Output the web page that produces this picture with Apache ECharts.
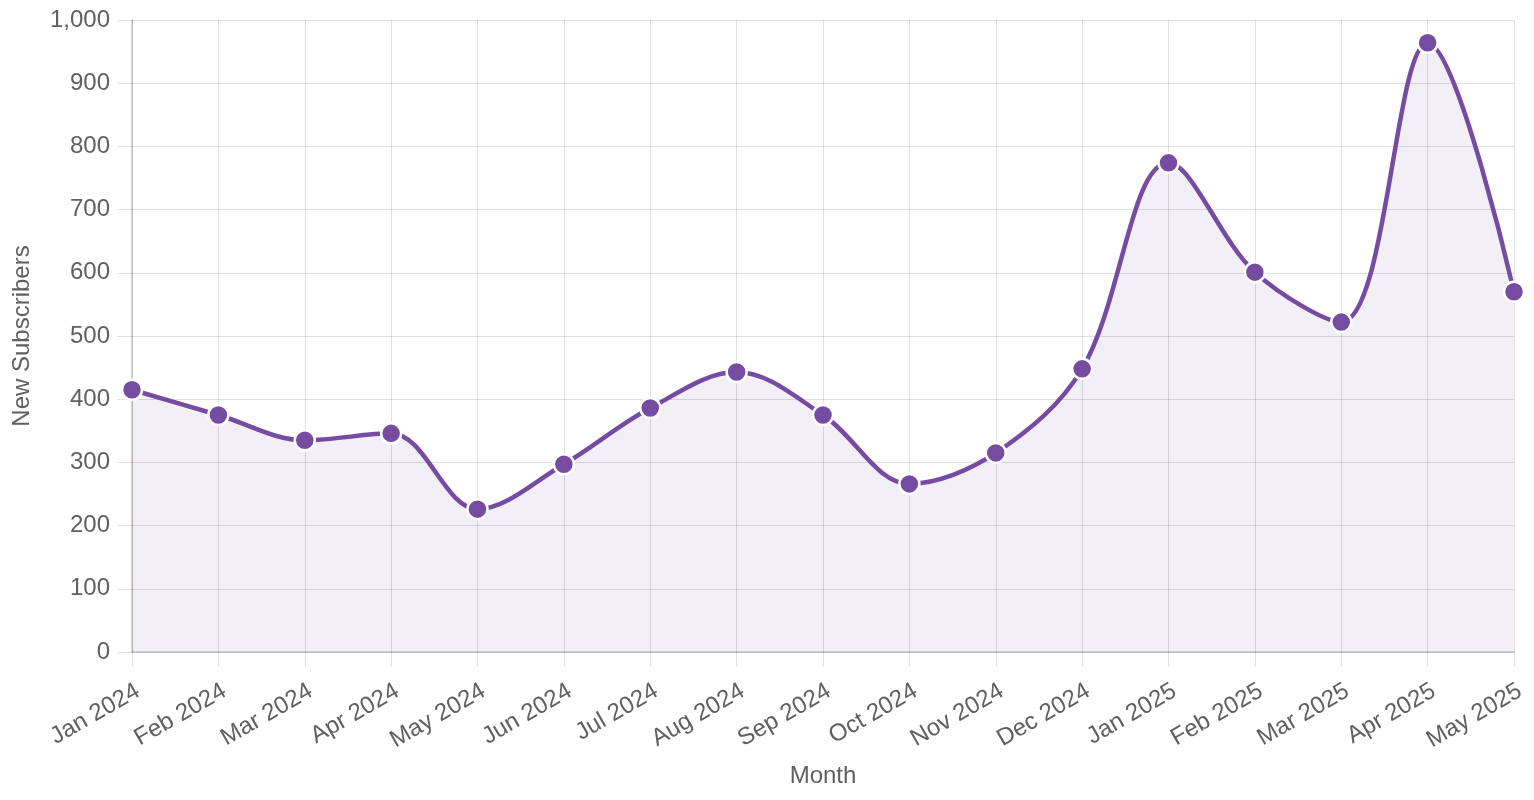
<!DOCTYPE html>
<html>
<head>
<meta charset="utf-8">
<script src="https://cdn.jsdelivr.net/npm/echarts@6/dist/echarts.min.js"></script>
<style>
  html, body { margin: 0; padding: 0; background: #fff; }
  #chart { width: 1534px; height: 800px; }
</style>
</head>
<body>
<div id="chart"></div>
<script>
var months = ['Jan 2024', 'Feb 2024', 'Mar 2024', 'Apr 2024', 'May 2024', 'Jun 2024',
  'Jul 2024', 'Aug 2024', 'Sep 2024', 'Oct 2024', 'Nov 2024', 'Dec 2024',
  'Jan 2025', 'Feb 2025', 'Mar 2025', 'Apr 2025', 'May 2025'];
var subscribers = [415, 375, 335, 346, 226, 297, 386, 443, 375, 266, 315, 448, 774, 601, 522, 964, 570];

var chart = echarts.init(document.getElementById('chart'));
var labelFont = { fontFamily: 'Liberation Sans, Arial, sans-serif', fontSize: 24, color: '#606060' };
var gridColor = 'rgba(0,0,0,0.12)';
var purple = '#764ba2';

chart.setOption({
  animation: false,
  grid: { left: 132, right: 20, top: 20, bottom: 148 },
  xAxis: {
    type: 'category',
    data: months,
    boundaryGap: false,
    z: 1,
    name: 'Month',
    nameLocation: 'middle',
    nameGap: 112,
    nameTextStyle: labelFont,
    axisLine: { lineStyle: { color: 'rgba(0,0,0,0.2)', width: 1.5 } },
    axisTick: { length: 15, lineStyle: { color: gridColor } },
    splitLine: { show: true, lineStyle: { color: gridColor } },
    axisLabel: Object.assign({ rotate: 30, margin: 27, interval: 0, verticalAlign: 'top' }, labelFont)
  },
  yAxis: {
    type: 'value',
    min: 0,
    max: 1000,
    interval: 100,
    z: 1,
    name: 'New Subscribers',
    nameLocation: 'middle',
    nameGap: 98,
    nameTextStyle: labelFont,
    axisLine: { show: true, lineStyle: { color: 'rgba(0,0,0,0.2)', width: 1.5 } },
    axisTick: { show: true, length: 15, lineStyle: { color: gridColor } },
    splitLine: { lineStyle: { color: gridColor } },
    axisLabel: Object.assign({
      margin: 22,
      formatter: function (v) { return v.toLocaleString('en-US'); }
    }, labelFont)
  },
  series: [{
    // fill only, kept under the grid lines
    type: 'line',
    data: subscribers,
    smooth: 0.35,
    z: -1,
    symbol: 'none',
    silent: true,
    lineStyle: { width: 0 },
    areaStyle: { color: 'rgba(118,75,162,0.12)' }
  }, {
    type: 'line',
    data: subscribers,
    smooth: 0.35,
    z: 3,
    symbol: 'circle',
    symbolSize: 20,
    lineStyle: { color: purple, width: 4.5 },
    itemStyle: { color: purple, borderColor: '#fff', borderWidth: 2.5 }
  }]
});
</script>
</body>
</html>
